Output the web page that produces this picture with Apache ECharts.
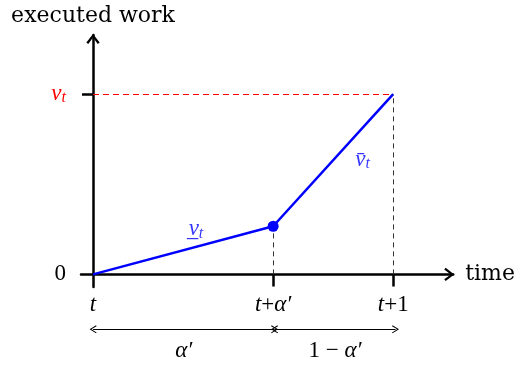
<!DOCTYPE html>
<html>
<head>
<meta charset="utf-8">
<title>executed work</title>
<script src="https://cdn.jsdelivr.net/npm/echarts@6/dist/echarts.min.js"></script>
<style>
html, body { margin: 0; padding: 0; background: #fff; }
#main { width: 518px; height: 367px; }
</style>
</head>
<body>
<div id="main"></div>
<script>
// values
var workX = [0, 0.6, 1];
var workY = [0, 0.267, 1];
var xTickVals = [0.6, 1];
var xLabelVals = [0, 0.6, 1];
var xLabels = ['{i|t}', '{i|t}{n|+}{i|α′}', '{i|t}{n|+1}'];
var yTickVals = [1];
var yLabelVals = [0, 1];
var yLabels = ['{n|0}', '{r|v}{rs|t}'];
var spanY = -0.305;
var spanStarts = [0, 0.6];
var spanEnds = [0.6, 1];
var spanLabels = ['{i|α′}', '{n|1 − }{i|α′}'];
var noteX = [0.343, 0.898];
var noteY = [0.25, 0.633];
var noteLabels = ['{b|v̲}{bs|t}', '{b|v̄}{bs|t}'];

var TEXT = 'DejaVu Serif';
var MATH = '"Liberation Serif", "Times New Roman", serif';
var CHEVRON = 'path://M0,9 L7,0 L14,9 L12,10.5 L7,3.6 L2,10.5 Z';
var HOOK = 'path://M0,7 L4,0 L8,7 L7.2,7.6 L4,2 L0.8,7.6 Z';

// rich text styles shared by all labels
var rich = {
	n: { fontFamily: MATH, fontSize: 23, color: '#000', lineHeight: 24 },
	i: { fontFamily: MATH, fontSize: 23, fontStyle: 'italic', color: '#000', lineHeight: 24 },
	r: { fontFamily: MATH, fontSize: 23, fontStyle: 'italic', color: '#ff0000', lineHeight: 24 },
	rs: { fontFamily: MATH, fontSize: 16, fontStyle: 'italic', color: '#ff0000', verticalAlign: 'bottom', lineHeight: 14 },
	b: { fontFamily: MATH, fontSize: 23, fontStyle: 'italic', color: '#0000ff', lineHeight: 24 },
	bs: { fontFamily: MATH, fontSize: 16, fontStyle: 'italic', color: '#0000ff', verticalAlign: 'bottom', lineHeight: 14 }
};

// blue line data, only the middle point gets a dot
var workData = [];
for (var i = 0; i < workX.length; i++) {
	workData.push({
		value: [workX[i], workY[i]],
		symbol: (i == 1) ? 'circle' : 'none',
		symbolSize: 11
	});
}

// dashed guides
var red = { color: '#ff0000', type: [6, 4], width: 1 };
var gray = { color: '#333', type: [5, 4], width: 1 };
var guides = [
	[{ coord: [0, workY[2]], lineStyle: red }, { coord: [workX[2], workY[2]] }],
	[{ coord: [workX[1], 0], lineStyle: gray }, { coord: [workX[1], workY[1]] }],
	[{ coord: [workX[2], 0], lineStyle: gray }, { coord: [workX[2], workY[2]] }]
];

// span arrows under the axis
var spans = [];
for (var i = 0; i < spanStarts.length; i++) {
	spans.push([
		{ coord: [spanStarts[i], spanY], label: { formatter: spanLabels[i] } },
		{ coord: [spanEnds[i], spanY] }
	]);
}

var notes = [];
for (var i = 0; i < noteX.length; i++) {
	notes.push({ value: [noteX[i], noteY[i]], label: { formatter: noteLabels[i] } });
}

var axisLine = {
	onZero: true,
	symbol: ['none', CHEVRON],
	symbolSize: [14, 10],
	symbolOffset: [0, -4],
	lineStyle: { color: '#000', width: 2.5 }
};

var chart = echarts.init(document.getElementById('main'));
chart.setOption({
	animation: false,
	grid: [
		{ left: 81, right: 62, top: 35, bottom: 80 },
		// same scale, taller, so the span arrows below the axis fit
		{ left: 81, right: 62, top: 35, bottom: 0 }
	],
	xAxis: [{
		type: 'value',
		min: -0.04,
		max: 1.2,
		name: 'time',
		nameLocation: 'end',
		nameGap: 12,
		nameTextStyle: { fontFamily: TEXT, fontSize: 22, color: '#000' },
		splitLine: { show: false },
		axisLine: axisLine,
		axisTick: { customValues: xTickVals, length: 12, lineStyle: { color: '#000', width: 2.5 } },
		axisLabel: {
			customValues: xLabelVals,
			margin: 6,
			formatter: function (v) { return xLabels[xLabelVals.indexOf(v)]; },
			rich: rich
		}
	}, {
		type: 'value', gridIndex: 1, min: -0.04, max: 1.2, show: false
	}],
	yAxis: [{
		type: 'value',
		min: -0.07,
		max: 1.328,
		name: 'executed work',
		nameLocation: 'end',
		nameGap: 8,
		nameTextStyle: { fontFamily: TEXT, fontSize: 22, color: '#000' },
		splitLine: { show: false },
		axisLine: axisLine,
		axisTick: { customValues: yTickVals, length: 11, lineStyle: { color: '#000', width: 2.5 } },
		axisLabel: {
			customValues: yLabelVals,
			margin: 15,
			formatter: function (v) { return yLabels[yLabelVals.indexOf(v)]; },
			rich: rich
		}
	}, {
		type: 'value', gridIndex: 1, min: 1.328 - 1.398 * 332 / 252, max: 1.328, show: false
	}],
	series: [
		{
			type: 'line',
			data: workData,
			lineStyle: { color: '#0000ff', width: 2.5 },
			itemStyle: { color: '#0000ff' },
			z: 5,
			markLine: {
				silent: true,
				symbol: ['none', 'none'],
				label: { show: false },
				data: guides,
				z: 1
			}
		},
		{
			type: 'scatter',
			xAxisIndex: 1,
			yAxisIndex: 1,
			data: [],
			markLine: {
				silent: true,
				symbol: [HOOK, HOOK],
				symbolSize: [8, 7],
				lineStyle: { color: '#000', type: 'solid', width: 1 },
				label: { show: true, position: 'insideMiddleBottom', distance: 10, rich: rich },
				data: spans
			}
		},
		{
			type: 'scatter',
			data: notes,
			symbolSize: 0,
			label: { show: true, position: 'inside', rich: rich }
		}
	]
});
</script>
</body>
</html>
